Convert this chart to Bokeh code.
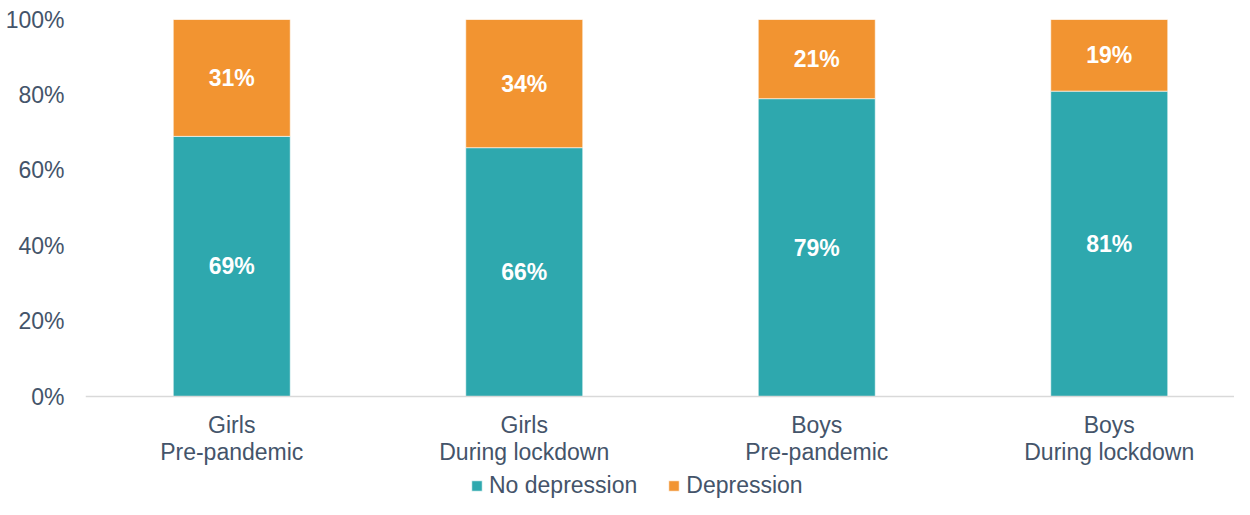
from bokeh.plotting import figure
from bokeh.models import (ColumnDataSource, Range1d, Legend, LegendItem,
                          FixedTicker, Span)
from bokeh.core.properties import value
from bokeh.embed import file_html
from bokeh.resources import INLINE

categories = ["Girls\nPre-pandemic", "Girls\nDuring lockdown",
              "Boys\nPre-pandemic", "Boys\nDuring lockdown"]
no_depression = [69, 66, 79, 81]
depression = [31, 34, 21, 19]
series_names = ["No depression", "Depression"]
y_ticks = [0, 20, 40, 60, 80, 100]

TEAL = "#2ea8ae"
ORANGE = "#f29431"
TXT = "#44546a"
FONT = "Liberation Sans"
FS = "23px"

xs = list(range(len(categories)))
src = ColumnDataSource(dict(
    x=xs,
    nd=no_depression,
    d=depression,
    nd_mid=[v / 2 for v in no_depression],
    d_mid=[a + b / 2 for a, b in zip(no_depression, depression)],
    nd_lbl=[f"{v}%" for v in no_depression],
    d_lbl=[f"{v}%" for v in depression],
    cat=categories,
    base=[0] * len(categories),
))

# frame is 480px tall; 0..100 spans 377px, the rest holds labels and legend
p = figure(width=1234, height=499, output_backend="svg", toolbar_location=None,
           x_range=Range1d(-0.5, -0.5 + 1149 / 292.5),
           y_range=Range1d(-103 / 3.77, 100),
           x_axis_location=None,
           min_border_left=85, min_border_right=0, min_border_top=19,
           min_border_bottom=0)
p.frame_height = 480
p.frame_width = 1149
p.outline_line_color = None
p.grid.visible = False

rs = p.vbar_stack(["nd", "d"], x="x", width=0.4, source=src,
                  color=[TEAL, ORANGE], line_color="white", line_width=0.6)

p.add_layout(Span(location=0, dimension="width", line_color="#d9d9d9",
                  line_width=1.5))

p.text(x="x", y="nd_mid", text="nd_lbl", source=src, text_color="white",
       text_font=value(FONT), text_font_size=FS, text_font_style="bold",
       text_align="center", text_baseline="middle")
p.text(x="x", y="d_mid", text="d_lbl", source=src, text_color="white",
       text_font=value(FONT), text_font_size=FS, text_font_style="bold",
       text_align="center", text_baseline="middle")

# category labels under the axis line
p.text(x="x", y="base", text="cat", source=src, text_color=TXT,
       text_font=value(FONT), text_font_size=FS, text_align="center",
       text_baseline="top", y_offset=15, text_line_height=1.05)

# y axis
p.yaxis.ticker = FixedTicker(ticks=y_ticks)
p.yaxis.major_label_overrides = {t: f"{t}%" for t in y_ticks}
p.yaxis.axis_line_color = None
p.yaxis.major_tick_line_color = None
p.yaxis.minor_tick_line_color = None
p.yaxis.major_label_standoff = 15
p.yaxis.major_label_text_font = FONT
p.yaxis.major_label_text_font_size = FS
p.yaxis.major_label_text_color = TXT

legend = Legend(items=[LegendItem(label=series_names[0], renderers=[rs[0]]),
                       LegendItem(label=series_names[1], renderers=[rs[1]])],
                orientation="horizontal", location=(385, 0),
                label_text_font=FONT, label_text_font_size=FS,
                label_text_color=TXT, glyph_width=13, glyph_height=13,
                label_standoff=6, spacing=30, padding=0, margin=0,
                border_line_color=None, background_fill_alpha=0)
p.add_layout(legend)

open("out.html", "w").write(file_html(p, INLINE))
